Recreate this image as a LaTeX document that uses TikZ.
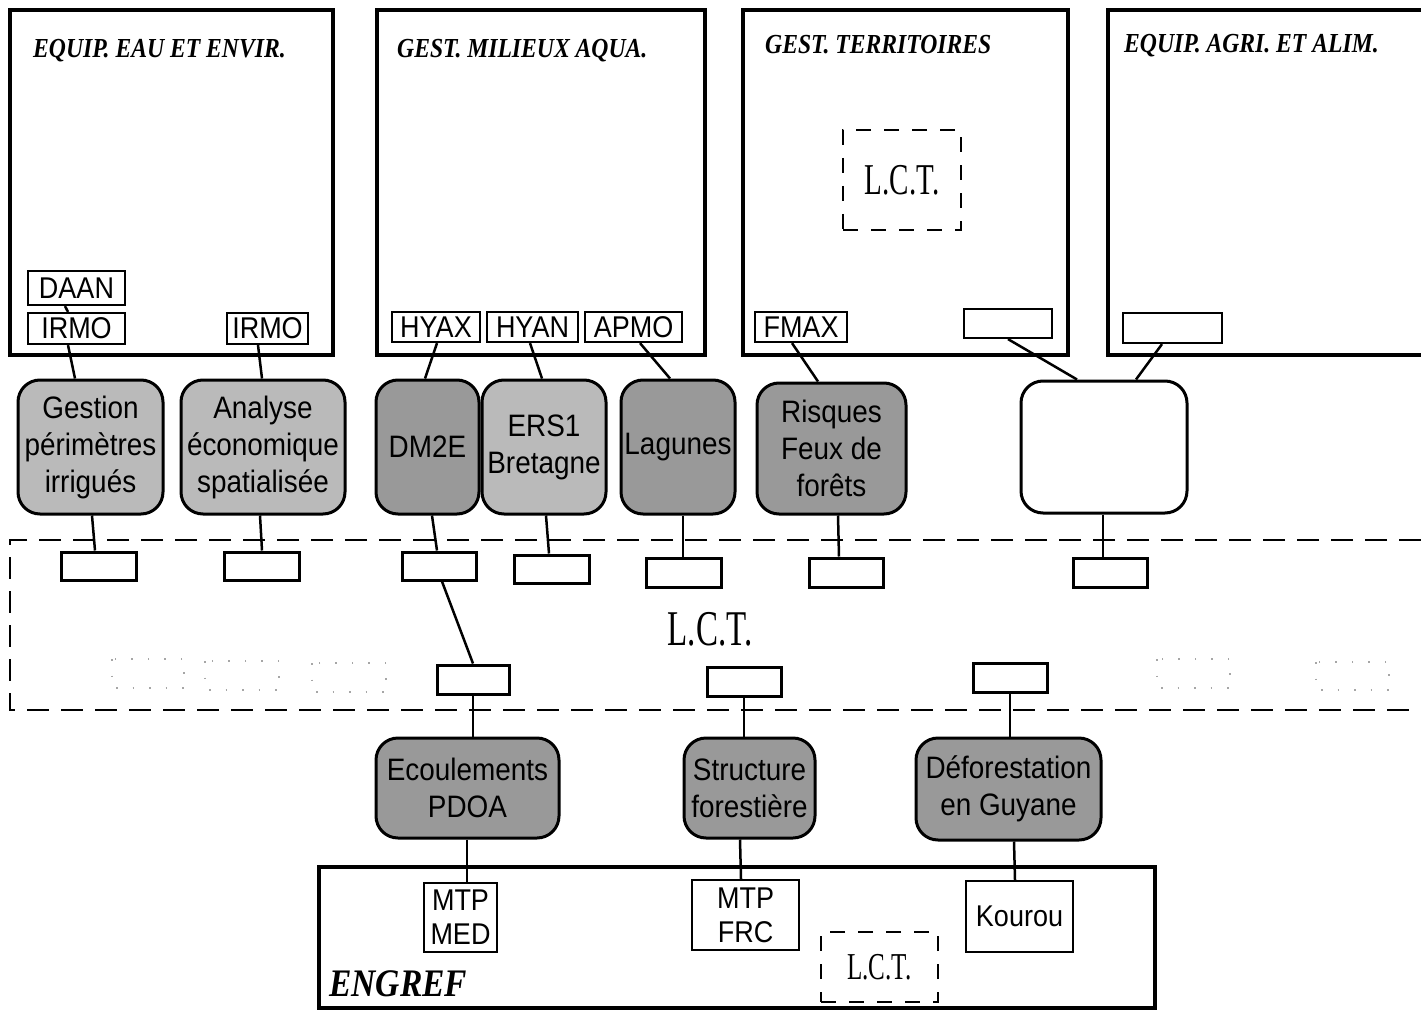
\documentclass[tikz,border=0pt]{standalone}
\usepackage{fontspec}
\setmainfont[FakeStretch=0.9]{Liberation Sans}
\newfontfamily\serifface[FakeStretch=0.86]{Liberation Serif}
\newfontfamily\lctface[FakeStretch=0.66]{Liberation Serif}
\usetikzlibrary{calc}
\tikzset{
  wh/.style 2 args={minimum width=#1, minimum height=#2},
  bigbox/.style={draw, line width=4.5, inner sep=0, rectangle},
  lbl/.style={draw, line width=2.2, inner sep=0, font=\fontsize{30}{32}\selectfont},
  rbox/.style={draw, line width=3, rounded corners=22, align=center, inner sep=0, font=\fontsize{31}{37}\selectfont},
  lightbox/.style={rbox, fill=black!27},
  darkbox/.style={rbox, fill=black!40},
  sbox/.style={draw, line width=3, inner sep=0},
  conn/.style={line width=2.5},
  lctbox/.style={draw, line width=1.3, dash pattern=on 15pt off 13pt, inner sep=0},
  head/.style={anchor=base west, inner sep=0, font=\serifface\bfseries\itshape\fontsize{27.5}{29}\selectfont},
  faint/.style={draw=black!35, line width=1.2, dash pattern=on 1.5pt off 15pt}
}
\begin{document}
\begin{tikzpicture}[x=1pt,y=-1pt]
\useasboundingbox (0,0) rectangle (1421,1011);
\fill[white] (0,0) rectangle (1421,1011);

% big boxes
\node[bigbox, wh={323}{345}] (b1) at (171.5,182.5) {};
\node[bigbox, wh={328}{345}] (b2) at (541,182.5) {};
\node[bigbox, wh={325}{345}] (b3) at (905.5,182.5) {};
\node[bigbox, wh={332}{345}] (b4) at (1274,182.5) {};
\node[bigbox, wh={836}{141}] (eng) at (737,937.5) {};

% headers
\node[head] (h1) at (33,58) {EQUIP. EAU ET ENVIR.};
\node[head] (h2) at (397,58) {GEST. MILIEUX AQUA.};
\node[head] (h3) at (765,54) {GEST. TERRITOIRES};
\node[head] (h4) at (1124,53) {EQUIP. AGRI. ET ALIM.};
\node[anchor=base west, inner sep=0, font=\serifface\bfseries\itshape\fontsize{39}{41}\selectfont] (engl) at (329,996) {ENGREF};

% L.C.T. dashed boxes
\node[lctbox, wh={118}{100}, font=\lctface\fontsize{44}{44}\selectfont] (lct3) at (902,180) {L.C.T.};
\node[lctbox, wh={117}{70}, font=\lctface\fontsize{38}{38}\selectfont] (lcte) at (879.5,967) {L.C.T.};

% L.C.T. band
\draw[line width=1.5, dash pattern=on 22pt off 12pt] (1421,540) -- (10,540) -- (10,710) -- (1421,710);
\node[inner sep=0, font=\lctface\fontsize{50}{50}\selectfont] (lctband) at (710,629) {L.C.T.};
\draw[faint] (112,659) rectangle (184,688);
\draw[faint] (205,661) rectangle (279,690);
\draw[faint] (312,663) rectangle (386,692);
\draw[faint] (1157,659) rectangle (1230,688);
\draw[faint] (1316,662) rectangle (1389,690);

% label boxes
\node[lbl, fill=white, wh={97}{34}] (daan) at (76.5,288) {DAAN};
\node[lbl, fill=white, wh={97}{31}] (irmo1) at (76.5,328.5) {IRMO};
\node[lbl, fill=white, wh={81}{31}] (irmo2) at (267.5,328.5) {IRMO};
\node[lbl, fill=white, wh={88}{30}] (hyax) at (436,327) {HYAX};
\node[lbl, fill=white, wh={91}{30}] (hyan) at (532.5,327) {HYAN};
\node[lbl, fill=white, wh={97}{30}] (apmo) at (633.5,327) {APMO};
\node[lbl, fill=white, wh={92}{30}] (fmax) at (801,327) {FMAX};
\node[lbl, fill=white, wh={88}{29}] (e3) at (1008,323.5) {};
\node[lbl, fill=white, wh={99}{30}] (e4) at (1172.5,328) {};

% upper rounded boxes
\node[lightbox, wh={145}{134}] (r1) at (90.5,447) {Gestion\\périmètres\\irrigués};
\node[lightbox, wh={164}{134}] (r2) at (263,447) {Analyse\\économique\\spatialisée};
\node[darkbox, wh={103}{134}] (r3) at (427.5,447) {DM2E};
\node[lightbox, wh={124}{134}] (r4) at (544,447) {ERS1\\Bretagne};
\node[darkbox, wh={114}{134}] (r5) at (678,447) {Lagunes};
\node[darkbox, wh={149}{131}] (r6) at (831.5,448.5) {Risques\\Feux de\\forêts};
\node[rbox, fill=white, wh={166}{132}] (r7) at (1104,447) {};

% band boxes
\node[sbox, wh={75}{28}] (s1) at (98.5,566) {};
\node[sbox, wh={75}{28}] (s2) at (261.5,566) {};
\node[sbox, wh={74}{28}] (s3) at (439,566) {};
\node[sbox, wh={75}{28}] (s4) at (551.5,569) {};
\node[sbox, wh={75}{29}] (s5) at (683.5,572.5) {};
\node[sbox, wh={74}{29}] (s6) at (846,572.5) {};
\node[sbox, wh={74}{29}] (s7) at (1110,572.5) {};
\node[sbox, wh={72}{29}] (t1) at (473,679.5) {};
\node[sbox, wh={74}{29}] (t2) at (744,681.5) {};
\node[sbox, wh={74}{29}] (t3) at (1010,677.5) {};

% lower rounded boxes
\node[darkbox, wh={183}{100}] (q1) at (467.5,788) {Ecoulements\\PDOA};
\node[darkbox, wh={131}{100}] (q2) at (749.5,788) {Structure\\forestière};
\node[darkbox, wh={185}{102}] (q3) at (1008.5,789) {Déforestation\\en Guyane};

% ENGREF boxes
\node[draw, line width=2.2, inner sep=0, align=center, wh={73}{69}, font=\fontsize{30}{34}\selectfont] (m1) at (460.5,917.5) {MTP\\MED};
\node[draw, line width=2.2, inner sep=0, align=center, wh={107}{70}, font=\fontsize{30}{34}\selectfont] (m2) at (745.5,915) {MTP\\FRC};
\node[draw, line width=2.2, inner sep=0, align=center, wh={107}{71}, font=\fontsize{30}{34}\selectfont] (m3) at (1019.5,916.5) {Kourou};

% connectors
\draw[conn] (daan.south -| 65,0) -- (irmo1.north -| 68,0);
\draw[conn] (irmo1.south -| 68,0) -- (r1.north -| 75,0);
\draw[conn] (irmo2.south -| 258,0) -- (r2.north -| 262,0);
\draw[conn] (hyax.south -| 437,0) -- (r3.north -| 425,0);
\draw[conn] (hyan.south -| 530,0) -- (r4.north -| 542,0);
\draw[conn] (apmo.south -| 640,0) -- (r5.north -| 670,0);
\draw[conn] (fmax.south -| 792,0) -- (r6.north -| 818,0);
\draw[conn] (e3.south -| 1008,0) -- (r7.north -| 1077,0);
\draw[conn] (e4.south -| 1162,0) -- (r7.north -| 1136,0);
\draw[conn] (r1.south -| 92,0) -- (s1.north -| 95,0);
\draw[conn] (r2.south -| 260,0) -- (s2.north -| 262,0);
\draw[conn] (r3.south -| 432,0) -- (s3.north -| 437,0);
\draw[conn] (s3.south -| 442,0) -- (t1.north -| 473,0);
\draw[conn] (r4.south -| 546,0) -- (s4.north -| 549,0);
\draw[conn] (r5.south -| 683,0) -- (s5.north -| 683,0);
\draw[conn] (r6.south -| 838,0) -- (s6.north -| 839,0);
\draw[conn] (r7.south -| 1103,0) -- (s7.north -| 1103,0);
\draw[conn] (t1.south -| 473,0) -- (q1.north -| 473,0);
\draw[conn] (t2.south -| 744,0) -- (q2.north -| 744,0);
\draw[conn] (t3.south -| 1010,0) -- (q3.north -| 1010,0);
\draw[conn] (q1.south -| 467,0) -- (m1.north -| 467,0);
\draw[conn] (q2.south -| 740,0) -- (m2.north -| 741,0);
\draw[conn] (q3.south -| 1014,0) -- (m3.north -| 1015,0);
\end{tikzpicture}
\end{document}
